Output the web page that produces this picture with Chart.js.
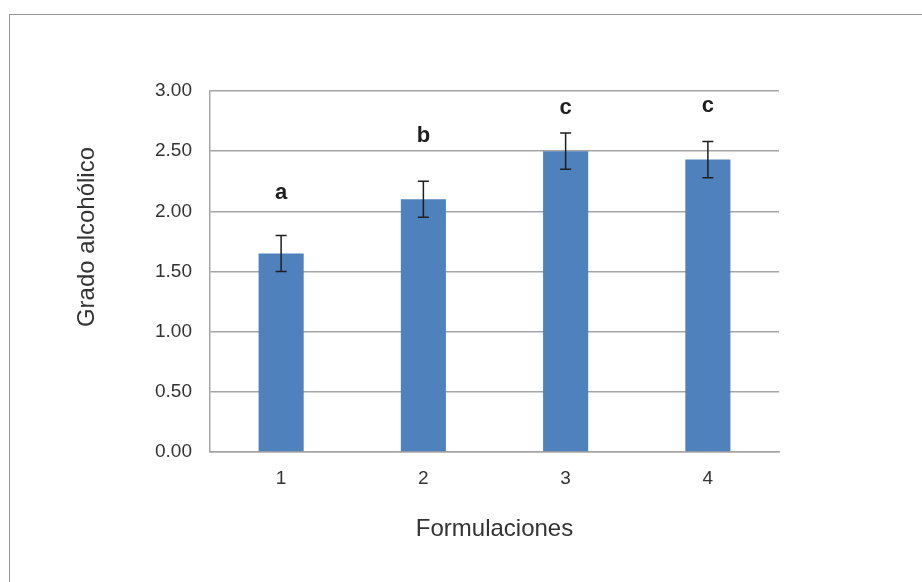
<!DOCTYPE html>
<html>
<head>
<meta charset="utf-8">
<script src="https://cdn.jsdelivr.net/npm/chart.js@4"></script>
<style>
	html, body {
		margin: 0;
		padding: 0;
		background: #ffffff;
		overflow: hidden;
	}
	#frame {
		position: absolute;
		left: 9px;
		top: 14px;
		width: 1000px;
		height: 1000px;
		border-left: 1px solid #959595;
		border-top: 1px solid #959595;
	}
	#chart {
		position: absolute;
		left: 0;
		top: 0;
	}
</style>
</head>
<body>
<div id="frame"></div>
<canvas id="chart" width="922" height="582"></canvas>
<script>
const categories = ['1', '2', '3', '4'];
const values = [1.65, 2.10, 2.50, 2.43];
const errors = [0.15, 0.15, 0.15, 0.15];
const letters = ['a', 'b', 'c', 'c'];
const letterLevels = [2.15, 2.63, 2.86, 2.88];
const yTicks = [0, 0.5, 1, 1.5, 2, 2.5, 3];
const yTitle = 'Grado alcohólico';

const font = '"Liberation Sans", Arial, sans-serif';
const gray = '#a5a5a5';
const text = '#333333';

// error bars, significance letters and the y title (sits above the plot centre, as in Excel)
const extras = {
	id: 'extras',
	afterDatasetsDraw: chart => {
		const ctx = chart.ctx;
		const x = chart.scales.x;
		const y = chart.scales.y;
		ctx.save();
		ctx.strokeStyle = '#1f1f1f';
		ctx.lineWidth = 1.5;
		values.forEach((value, i) => {
			const cx = x.getPixelForValue(i);
			const top = y.getPixelForValue(value + errors[i]);
			const bottom = y.getPixelForValue(value - errors[i]);
			ctx.beginPath();
			ctx.moveTo(cx, top);
			ctx.lineTo(cx, bottom);
			ctx.moveTo(cx - 5.5, top);
			ctx.lineTo(cx + 5.5, top);
			ctx.moveTo(cx - 5.5, bottom);
			ctx.lineTo(cx + 5.5, bottom);
			ctx.stroke();
		});
		ctx.fillStyle = '#1f1f1f';
		ctx.font = 'bold 22px ' + font;
		ctx.textAlign = 'center';
		ctx.textBaseline = 'middle';
		letters.forEach((letter, i) => {
			ctx.fillText(letter, x.getPixelForValue(i), y.getPixelForValue(letterLevels[i]));
		});
		ctx.fillStyle = text;
		ctx.font = '24px ' + font;
		ctx.translate(87, 237);
		ctx.rotate(-Math.PI / 2);
		ctx.fillText(yTitle, 0, 0);
		ctx.restore();
	}
};

new Chart(document.getElementById('chart'), {
	type: 'bar',
	data: {
		labels: categories,
		datasets: [{
			data: values,
			backgroundColor: '#4f81bd',
			borderWidth: 0,
			categoryPercentage: 1,
			barPercentage: 0.317
		}]
	},
	options: {
		responsive: false,
		animation: false,
		devicePixelRatio: 1,
		layout: {
			padding: { left: 0, right: 143, top: 91, bottom: 38 }
		},
		plugins: {
			legend: { display: false },
			tooltip: { enabled: false }
		},
		scales: {
			x: {
				grid: { display: false, drawTicks: false },
				border: { display: true, color: gray, width: 1.5 },
				ticks: {
					color: text,
					font: { family: font, size: 19 },
					padding: 15
				},
				title: {
					display: true,
					text: 'Formulaciones',
					color: text,
					font: { family: font, size: 24 },
					padding: 0
				},
				afterFit: scale => {
					scale.height = 92;
				}
			},
			y: {
				min: 0,
				max: 3,
				afterBuildTicks: scale => {
					scale.ticks = yTicks.map(value => ({ value: value }));
				},
				grid: { color: gray, lineWidth: 1.5, drawTicks: false },
				border: { display: true, color: gray, width: 1.5 },
				ticks: {
					color: text,
					font: { family: font, size: 19 },
					padding: 18,
					callback: value => Number(value).toFixed(2)
				},
				afterFit: scale => {
					scale.width = 210;
				}
			}
		}
	},
	plugins: [extras]
});
</script>
</body>
</html>
